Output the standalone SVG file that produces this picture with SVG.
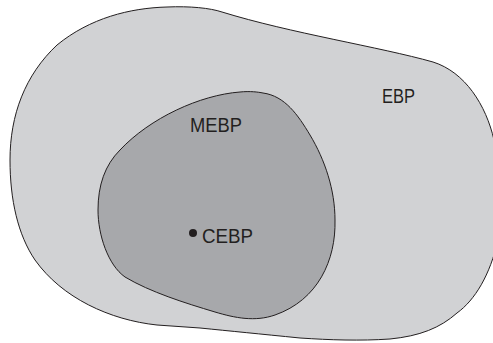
<svg xmlns="http://www.w3.org/2000/svg" width="493" height="343" viewBox="0 0 493 343">
  <style>
    .region { stroke: #231f20; stroke-width: 1; }
    .outer { fill: #d1d2d4; }
    .inner { fill: #a7a8ab; }
    .label { font-family: "Liberation Sans", "DejaVu Sans", sans-serif; font-size: 20px; fill: #231f20; }
  </style>
  <rect width="493" height="343" fill="#ffffff"/>
  <g id="EBP">
    <path class="region outer" d="M 222 12 C 290 33, 380 47, 433 62 C 465 72, 486 105, 494 140 L 498 150 L 498 240 C 490 275, 475 300, 457 313 C 440 328, 420 336, 390 339 C 360 341, 330 340, 300 338 C 260 334, 230 331, 200 328 L 157 325 C 110 320, 62 298, 35 260 C 18 235, 10 200, 10 160 C 10 115, 25 75, 57 45 C 90 18, 130 8, 167 7 C 190 6, 210 8, 222 12 Z"/>
    <text class="label" x="382" y="103" textLength="33" lengthAdjust="spacingAndGlyphs">EBP</text>
  </g>
  <g id="MEBP">
    <path class="region inner" d="M 263 93 C 285 96, 298 115, 310 135 C 325 160, 335 190, 335 220 C 336 260, 318 300, 275 315 C 255 322, 235 318, 215 312 C 185 303, 150 292, 125 277 C 108 265, 98 235, 98 210 C 98 185, 105 165, 120 150 C 150 118, 200 95, 240 92 C 250 91, 258 92, 263 93 Z"/>
    <text class="label" x="190" y="132" textLength="52" lengthAdjust="spacingAndGlyphs">MEBP</text>
  </g>
  <g id="CEBP">
    <circle cx="193" cy="233" r="4" fill="#231f20"/>
    <text class="label" x="202" y="243" textLength="51" lengthAdjust="spacingAndGlyphs">CEBP</text>
  </g>
</svg>
